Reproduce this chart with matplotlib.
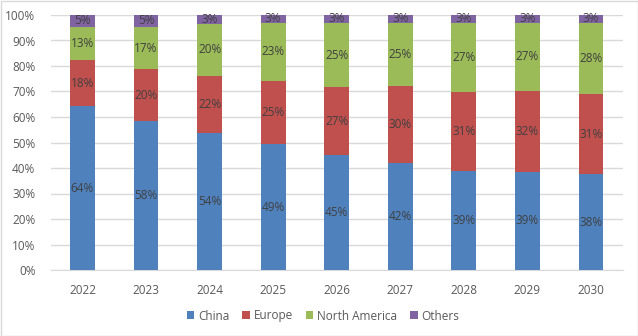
import matplotlib
matplotlib.use("Agg")
import matplotlib.pyplot as plt
from matplotlib.patches import Rectangle
import numpy as np

years = ["2022", "2023", "2024", "2025", "2026", "2027", "2028", "2029", "2030"]
china = [64.2, 58.3, 53.9, 49.4, 45.1, 42.1, 38.8, 38.6, 37.6]
europe = [18.1, 20.4, 22.3, 24.7, 26.6, 30.1, 31.0, 31.7, 31.4]
north_america = [13.1, 16.7, 20.4, 22.8, 25.2, 24.7, 27.1, 26.6, 27.9]
others = [4.6, 4.6, 3.4, 3.1, 3.1, 3.1, 3.1, 3.1, 3.1]

series = [("China", china, "#4F81BD"),
          ("Europe", europe, "#C0504D"),
          ("North America", north_america, "#9BBB59"),
          ("Others", others, "#8064A2")]

plt.rcParams['font.family'] = ['Open Sans', 'DejaVu Sans']
fig = plt.figure(figsize=(6.38, 3.36), dpi=100)
ax = fig.add_axes([50.7/638, 1-270/336, 572/638, 255/336])

x = np.arange(len(years))
bottom = np.zeros(len(years))
for name, vals, col in series:
    v = np.array(vals)
    ax.bar(x, v, 0.39, bottom=bottom, color=col, label=name, zorder=3)
    for xi, b, h in zip(x, bottom, v):
        ax.text(xi, b + h/2, f"{h:.0f}%", ha="center", va="center",
                fontsize=8.5, color="#404040", zorder=4)
    bottom += v

ax.set_xlim(-0.5, len(years)-0.5)
ax.set_ylim(0, 100)
ax.set_yticks(np.arange(0, 101, 10))
ax.set_yticklabels([f"{t}%" for t in range(0, 101, 10)])
ax.set_xticks(x)
ax.set_xticklabels(years)
ax.tick_params(axis="both", length=0, labelsize=8.5, labelcolor="#595959")
ax.tick_params(axis="x", pad=10)
ax.tick_params(axis="y", pad=11)
ax.grid(axis="y", color="#D9D9D9", linewidth=1, zorder=0)
for s in ["top", "right", "left"]:
    ax.spines[s].set_visible(False)
ax.spines["bottom"].set_color("#D9D9D9")

leg = fig.legend(loc="center", bbox_to_anchor=(0.506, 1-316/336), ncol=4,
                 frameon=False, fontsize=8.5, handlelength=0.65, handleheight=0.65,
                 handletextpad=0.3, columnspacing=1.1)
for t in leg.get_texts():
    t.set_color("#595959")

fig.patches.append(Rectangle((0.5/638, 0.5/336), 1-1/638, 1-1/336, transform=fig.transFigure,
                             fill=False, edgecolor="#D9D9D9", linewidth=1))
fig.savefig("out.png", dpi=100)
